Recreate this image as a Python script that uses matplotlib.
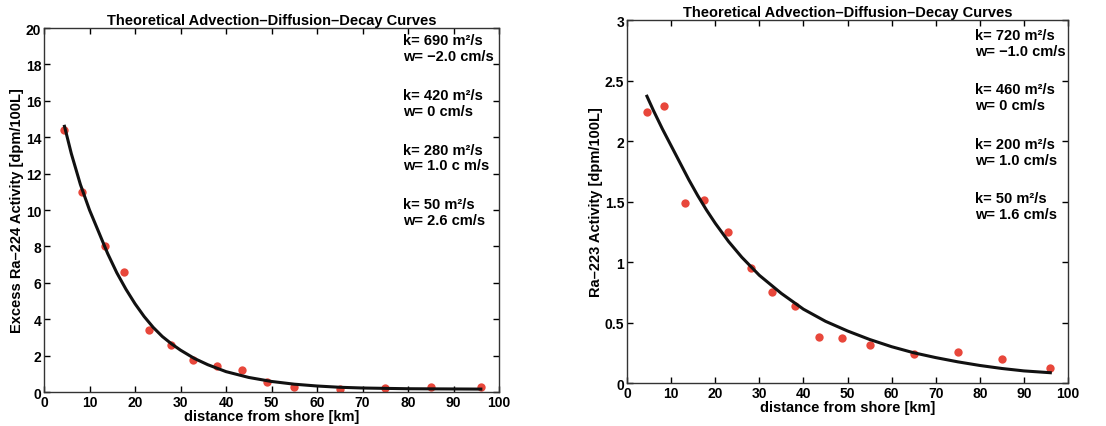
import matplotlib
matplotlib.use("Agg")
import matplotlib.pyplot as plt

plt.rcParams['font.family'] = ['Liberation Sans', 'DejaVu Sans']
plt.rcParams['font.weight'] = 'bold'
plt.rcParams['axes.titleweight'] = 'bold'
plt.rcParams['axes.labelweight'] = 'bold'

# Ra-224 panel
x224 = [4.5, 8.3, 13.3, 17.5, 23, 28, 32.8, 38, 43.5, 49, 55, 65, 75, 85, 96]
y224 = [14.4, 11.0, 8.0, 6.6, 3.4, 2.6, 1.75, 1.45, 1.2, 0.55, 0.25, 0.15, 0.2, 0.3, 0.25]
x224_fit = [4.5, 6, 8, 10, 12, 14, 16, 18, 20, 22, 24, 26, 28, 30, 33, 36, 40, 45, 50, 55, 60,
            65, 70, 80, 96]
y224_fit = [14.6, 13.1, 11.4, 10.0, 8.8, 7.6, 6.55, 5.65, 4.85, 4.15, 3.55, 3.05, 2.65, 2.3,
            1.85, 1.5, 1.12, 0.8, 0.58, 0.43, 0.33, 0.26, 0.22, 0.18, 0.16]
labels224 = ["k= 690 m²/s\nw= \u22122.0 cm/s", "k= 420 m²/s\nw= 0 cm/s",
             "k= 280 m²/s\nw= 1.0 c m/s", "k= 50 m²/s\nw= 2.6 cm/s"]

# Ra-223 panel
x223 = [4.5, 8.3, 13.2, 17.5, 23, 28.2, 32.8, 38, 43.5, 48.8, 55, 65, 75, 85, 96]
y223 = [2.24, 2.29, 1.49, 1.51, 1.25, 0.95, 0.75, 0.64, 0.38, 0.37, 0.31, 0.24, 0.26, 0.20, 0.12]
x223_fit = [4.5, 6, 8, 10, 12, 14, 16, 18, 20, 23, 26, 30, 35, 40, 45, 50, 55, 60, 65, 70, 75,
            80, 85, 90, 96]
y223_fit = [2.37, 2.25, 2.1, 1.96, 1.82, 1.68, 1.55, 1.43, 1.32, 1.17, 1.04, 0.89, 0.74, 0.61,
            0.51, 0.43, 0.36, 0.3, 0.25, 0.21, 0.175, 0.145, 0.12, 0.1, 0.085]
labels223 = ["k= 720 m²/s\nw= \u22121.0 cm/s", "k= 460 m²/s\nw= 0 cm/s",
             "k= 200 m²/s\nw= 1.0 cm/s", "k= 50 m²/s\nw= 1.6 cm/s"]

fig = plt.figure(figsize=(11.06, 4.27), dpi=100)
ax1 = fig.add_axes([0.0398, 0.0796, 0.4114, 0.8524])
ax2 = fig.add_axes([0.567, 0.1007, 0.3986, 0.8501])

red = '#e8473b'
panels = [
    (ax1, x224, y224, x224_fit, y224_fit, labels224, 20, range(0, 21, 2),
     "Excess Ra\u2013224 Activity [dpm/100L]", 0.985),
    (ax2, x223, y223, x223_fit, y223_fit, labels223, 3, [0, 0.5, 1, 1.5, 2, 2.5, 3],
     "Ra\u2013223 Activity [dpm/100L]", 0.978),
]
for ax, xs, ys, xf, yf, labs, ymax, yt, ylab, ytop in panels:
    ax.plot(xs, ys, 'o', color=red, markersize=6, markeredgewidth=0, zorder=2)
    ax.plot(xf, yf, '-', color='#111111', linewidth=2.2, zorder=3)
    ax.set_xlim(0, 100)
    ax.set_ylim(0, ymax)
    ax.set_xticks(range(0, 101, 10))
    ax.set_yticks(yt)
    ax.set_yticklabels([f"{v:g}" for v in yt])
    ax.tick_params(direction='in', top=True, right=True, labelsize=10, length=4, width=1, pad=2)
    for s in ax.spines.values():
        s.set_linewidth(1)
        s.set_color('#333333')
    ax.set_xlabel("distance from shore [km]", fontsize=10.5, labelpad=0)
    ax.set_ylabel(ylab, fontsize=10.5, labelpad=1)
    ax.set_title("Theoretical Advection\u2013Diffusion\u2013Decay Curves", fontsize=10.5, pad=3)
    for i, t in enumerate(labs):
        ax.text(0.79, ytop - i * 0.15, t, transform=ax.transAxes, fontsize=10.5,
                va='top', ha='left', linespacing=1.15)

fig.savefig("out.png", dpi=100)
